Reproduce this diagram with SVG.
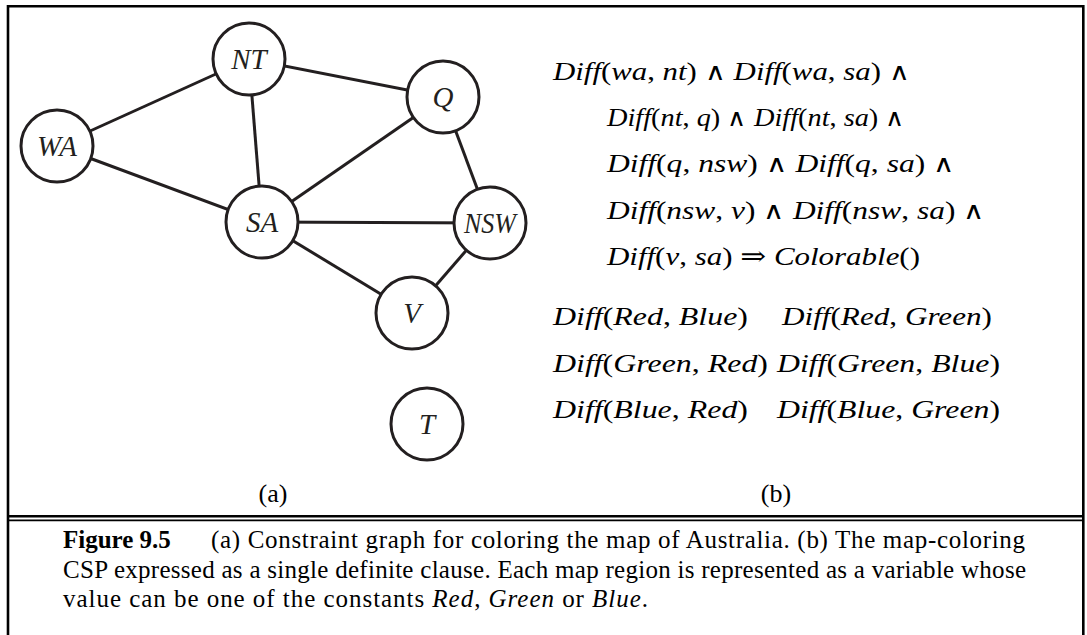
<svg xmlns="http://www.w3.org/2000/svg" width="1087" height="635" viewBox="0 0 1087 635">
<style>
.frame{fill:none;stroke:#000;stroke-width:2.6}
.edge{stroke:#231f20;stroke-width:3}
.node circle{fill:#fff;stroke:#231f20;stroke-width:3}
.lbl{font-family:"Liberation Serif",serif;font-style:italic;font-size:29px;text-anchor:middle;fill:#231f20}
.m{font-family:"Liberation Serif","DejaVu Serif",serif;font-size:26px;fill:#000}
.i{font-style:italic}
.w{font-family:"DejaVu Sans",sans-serif;font-weight:200;font-size:24px}
.sub{font-family:"Liberation Serif",serif;font-size:26px;text-anchor:middle;fill:#000}
.cap{font-family:"Liberation Serif",serif;font-size:25px;fill:#000}
.b{font-weight:bold}
</style>
<rect width="1087" height="635" fill="#fff"/>
<g id="frame">
<polyline class="frame" points="8,635 8,6.2 1083.3,6.2 1083.3,635"/>
<line x1="8" y1="516.3" x2="1083.3" y2="516.3" stroke="#000" stroke-width="2.4"/>
<line x1="8" y1="520.4" x2="1083.3" y2="520.4" stroke="#000" stroke-width="1.6"/>
</g>
<g id="connectors">
<line class="edge" x1="57" y1="146" x2="249" y2="59"/>
<line class="edge" x1="57" y1="146" x2="262" y2="222"/>
<line class="edge" x1="249" y1="59" x2="262" y2="222"/>
<line class="edge" x1="249" y1="59" x2="443" y2="97"/>
<line class="edge" x1="443" y1="97" x2="262" y2="222"/>
<line class="edge" x1="443" y1="97" x2="490" y2="223"/>
<line class="edge" x1="262" y1="222" x2="490" y2="223"/>
<line class="edge" x1="262" y1="222" x2="412" y2="313"/>
<line class="edge" x1="490" y1="223" x2="412" y2="313"/>
</g>
<g id="node-WA" class="node"><circle cx="57" cy="146" r="36"/><text class="lbl" x="57" y="156">WA</text></g>
<g id="node-NT" class="node"><circle cx="249" cy="59" r="36"/><text class="lbl" x="249" y="69">NT</text></g>
<g id="node-Q" class="node"><circle cx="443" cy="97" r="36"/><text class="lbl" x="443" y="107">Q</text></g>
<g id="node-SA" class="node"><circle cx="262" cy="222" r="36"/><text class="lbl" x="262" y="232">SA</text></g>
<g id="node-NSW" class="node"><circle cx="490" cy="223" r="36"/><text class="lbl" x="490" y="233" textLength="52" lengthAdjust="spacingAndGlyphs">NSW</text></g>
<g id="node-V" class="node"><circle cx="412" cy="313" r="36"/><text class="lbl" x="412" y="323">V</text></g>
<g id="node-T" class="node"><circle cx="427" cy="424" r="36"/><text class="lbl" x="427" y="434">T</text></g>
<g id="formula">
<text class="m" x="553" y="80" textLength="357" lengthAdjust="spacingAndGlyphs"><tspan class="i">Diff</tspan>(<tspan class="i">wa</tspan>, <tspan class="i">nt</tspan>) <tspan class="w">∧</tspan> <tspan class="i">Diff</tspan>(<tspan class="i">wa</tspan>, <tspan class="i">sa</tspan>) <tspan class="w">∧</tspan></text>
<text class="m" x="607" y="126" textLength="298" lengthAdjust="spacingAndGlyphs"><tspan class="i">Diff</tspan>(<tspan class="i">nt</tspan>, <tspan class="i">q</tspan>) <tspan class="w">∧</tspan> <tspan class="i">Diff</tspan>(<tspan class="i">nt</tspan>, <tspan class="i">sa</tspan>) <tspan class="w">∧</tspan></text>
<text class="m" x="607" y="172" textLength="348" lengthAdjust="spacingAndGlyphs"><tspan class="i">Diff</tspan>(<tspan class="i">q</tspan>, <tspan class="i">nsw</tspan>) <tspan class="w">∧</tspan> <tspan class="i">Diff</tspan>(<tspan class="i">q</tspan>, <tspan class="i">sa</tspan>) <tspan class="w">∧</tspan></text>
<text class="m" x="607" y="219" textLength="378" lengthAdjust="spacingAndGlyphs"><tspan class="i">Diff</tspan>(<tspan class="i">nsw</tspan>, <tspan class="i">v</tspan>) <tspan class="w">∧</tspan> <tspan class="i">Diff</tspan>(<tspan class="i">nsw</tspan>, <tspan class="i">sa</tspan>) <tspan class="w">∧</tspan></text>
<text class="m" x="607" y="265" textLength="313" lengthAdjust="spacingAndGlyphs"><tspan class="i">Diff</tspan>(<tspan class="i">v</tspan>, <tspan class="i">sa</tspan>)  ⇒  <tspan class="i">Colorable</tspan>()</text>
<text class="m" x="553" y="325" textLength="195" lengthAdjust="spacingAndGlyphs"><tspan class="i">Diff</tspan>(<tspan class="i">Red</tspan>, <tspan class="i">Blue</tspan>)</text>
<text class="m" x="782" y="325" textLength="210" lengthAdjust="spacingAndGlyphs"><tspan class="i">Diff</tspan>(<tspan class="i">Red</tspan>, <tspan class="i">Green</tspan>)</text>
<text class="m" x="553" y="372" textLength="215" lengthAdjust="spacingAndGlyphs"><tspan class="i">Diff</tspan>(<tspan class="i">Green</tspan>, <tspan class="i">Red</tspan>)</text>
<text class="m" x="777" y="372" textLength="223" lengthAdjust="spacingAndGlyphs"><tspan class="i">Diff</tspan>(<tspan class="i">Green</tspan>, <tspan class="i">Blue</tspan>)</text>
<text class="m" x="553" y="418" textLength="195" lengthAdjust="spacingAndGlyphs"><tspan class="i">Diff</tspan>(<tspan class="i">Blue</tspan>, <tspan class="i">Red</tspan>)</text>
<text class="m" x="777" y="418" textLength="223" lengthAdjust="spacingAndGlyphs"><tspan class="i">Diff</tspan>(<tspan class="i">Blue</tspan>, <tspan class="i">Green</tspan>)</text>
</g>
<g id="sublabels">
<text class="sub" x="273" y="502">(a)</text>
<text class="sub" x="776" y="502">(b)</text>
</g>
<g id="caption">
<text class="cap b" x="63" y="548">Figure 9.5</text>
<text class="cap" x="211" y="548" textLength="814" lengthAdjust="spacing">(a) Constraint graph for coloring the map of Australia. (b) The map-coloring</text>
<text class="cap" x="63" y="578" textLength="963" lengthAdjust="spacing">CSP expressed as a single definite clause. Each map region is represented as a variable whose</text>
<text class="cap" x="63" y="607" textLength="585" lengthAdjust="spacing">value can be one of the constants <tspan class="i">Red</tspan>, <tspan class="i">Green</tspan> or <tspan class="i">Blue</tspan>.</text>
</g>
</svg>
